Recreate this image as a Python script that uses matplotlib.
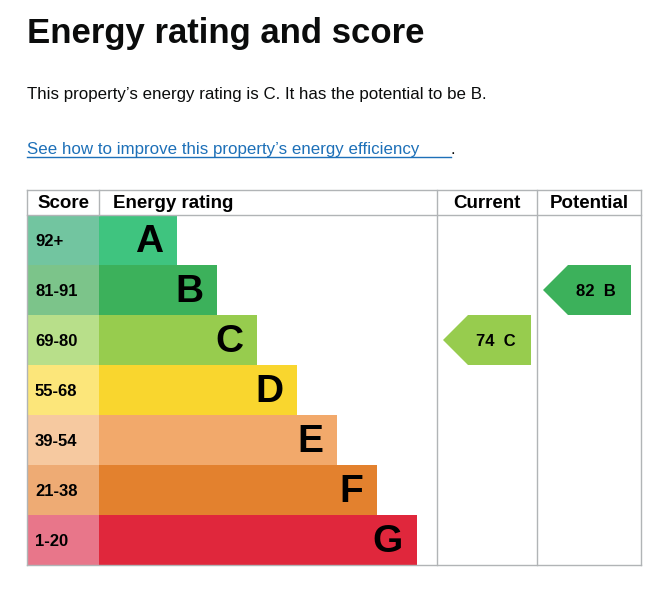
import matplotlib
matplotlib.use("Agg")
import matplotlib.pyplot as plt
from matplotlib.patches import Polygon

bands = ["A", "B", "C", "D", "E", "F", "G"]
score_ranges = ["92+", "81-91", "69-80", "55-68", "39-54", "21-38", "1-20"]
bar_colors = ["#3fc47f", "#3cb15b", "#97cc4e", "#f9d62e", "#f2a96b", "#e3812e", "#e0273c"]
score_colors = ["#72c5a0", "#7cc48a", "#b8df8a", "#fce67a", "#f6c9a0", "#eeab74", "#e8768a"]
current_score, current_band = 74, "C"
potential_score, potential_band = 82, "B"

plt.rcParams['font.family'] = ['Liberation Sans', 'DejaVu Sans']
fig = plt.figure(figsize=(6.57, 6.0), dpi=100)
ax = fig.add_axes([0, 0, 1, 1])
ax.set_xlim(0, 657); ax.set_ylim(600, 0); ax.axis("off")

ax.text(27, 43, "Energy rating and score", fontsize=25, fontweight="bold", color="#0b0c0c")
ax.text(27, 99, "This property\u2019s energy rating is C. It has the potential to be B.", fontsize=12.2, color="#0b0c0c")
t = ax.text(27, 154, "See how to improve this property\u2019s energy efficiency", fontsize=12.2, color="#1d70b8")
ax.text(451, 154, ".", fontsize=12.2, color="#0b0c0c")
ax.plot([27, 451], [157, 157], color="#1d70b8", lw=1)

top, hh, rh = 190, 25, 50
grid = "#b1b4b6"
x0, xs, xc, xp, x1 = 27, 99, 437, 537, 641
bottom = top + hh + rh * len(bands)
for x in [x0, xs, xc, xp, x1]:
    if x == xs:
        ax.plot([x, x], [top, top + hh], color=grid, lw=1)
    else:
        ax.plot([x, x], [top, bottom], color=grid, lw=1)
for y in [top, top + hh, bottom]:
    ax.plot([x0, x1], [y, y], color=grid, lw=1)
hy = top + hh / 2 + 1
ax.text(63, hy, "Score", fontsize=13.5, fontweight="bold", ha="center", va="center")
ax.text(113, hy, "Energy rating", fontsize=13.5, fontweight="bold", ha="left", va="center")
ax.text(487, hy, "Current", fontsize=13.5, fontweight="bold", ha="center", va="center")
ax.text(589, hy, "Potential", fontsize=13.5, fontweight="bold", ha="center", va="center")

centers = [top + hh + rh * i + rh / 2 for i in range(len(bands))]
widths = [78 + 40 * i for i in range(len(bands))]
ax.barh(centers, [xs - x0] * len(bands), left=x0, height=rh, color=score_colors)
ax.barh(centers, widths, left=xs, height=rh, color=bar_colors)
for c, b, s, w in zip(centers, bands, score_ranges, widths):
    ax.text(35, c + 1, s, fontsize=12, fontweight="bold", va="center", ha="left")
    ax.text(xs + w - 14, c + 2, b, fontsize=28, fontweight="bold", va="center", ha="right")

def arrow(xl, band, score):
    i = bands.index(band)
    c = centers[i]
    pts = [(xl, c), (xl + 25, c - 25), (xl + 88, c - 25), (xl + 88, c + 25), (xl + 25, c + 25)]
    ax.add_patch(Polygon(pts, closed=True, color=bar_colors[i], lw=0))
    ax.text(xl + 53, c + 1, f"{score}  {band}", fontsize=12, fontweight="bold", va="center", ha="center")

arrow(443, current_band, current_score)
arrow(543, potential_band, potential_score)
fig.savefig("out.png", dpi=100)
